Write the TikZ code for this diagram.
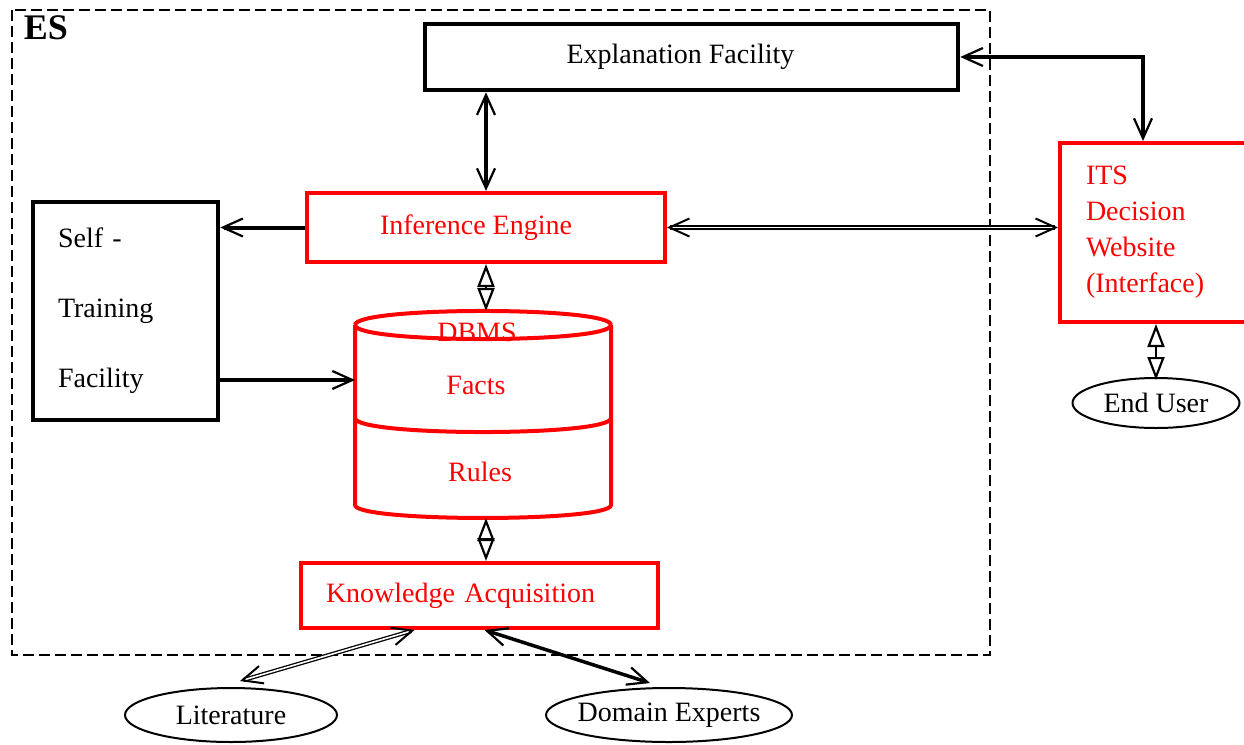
\documentclass[tikz,border=0pt]{standalone}
\usepackage{fontspec}
\setmainfont{Liberation Serif}
\usetikzlibrary{arrows.meta,shapes.geometric}
\begin{document}
\begin{tikzpicture}[x=1pt,y=-1pt,
  txt/.style={font=\fontsize{28}{33}\selectfont},
  blackbox/.style={txt, draw=black, line width=4.5pt, rectangle, inner sep=0pt},
  redbox/.style={txt, draw=red, line width=4pt, rectangle, inner sep=0pt, text=red},
  oval/.style={txt, draw=black, line width=2pt, ellipse, inner xsep=-20pt, inner ysep=0pt},
  dbms/.style={draw=red, line width=4pt, line join=round},
  redtxt/.style={txt, text=red, inner sep=0pt},
  arr/.style={line width=3.5pt, {Straight Barb[length=20pt,width=18pt,line width=2.2pt]}-{Straight Barb[length=20pt,width=18pt,line width=2.2pt]}},
  onearr/.style={line width=4pt, -{Straight Barb[length=20pt,width=18pt,line width=2.2pt]}},
  dbl/.style={double, double distance=1.6pt, line width=1.3pt, {Straight Barb[length=20pt,width=18pt,line width=2pt]}-{Straight Barb[length=20pt,width=18pt,line width=2pt]}},
  dia/.style={line width=2pt, {Triangle[open,length=23pt,width=17pt,line width=2.2pt]}-{Triangle[open,length=23pt,width=17pt,line width=2.2pt]}}
]
\useasboundingbox (0,0) rectangle (1244,744);
% ES frame
\draw[line width=2.5pt, dash pattern=on 11pt off 5pt] (12,10) rectangle (990,655);
\node[font=\bfseries\fontsize{36}{40}\selectfont, inner sep=0pt] (es) at (46,28) {ES};

% boxes
\node[blackbox, minimum width=533pt, minimum height=66pt] (expl) at (691.5,57) {\hspace*{-22pt}Explanation Facility};
\node[redbox, minimum width=358pt, minimum height=69pt] (inf) at (486,227.5) {\hspace*{-20pt}Inference Engine};
\node[blackbox, minimum width=185pt, minimum height=218pt, align=left, text width=135pt, inner xsep=25pt,
      font=\fontsize{28}{70}\selectfont] (self) at (125.5,311) {Self -\\Training\\Facility};
\node[redbox, minimum width=357pt, minimum height=65pt, align=left, text width=307pt, inner xsep=25pt] (know) at (479.5,595.5) {Knowledge Acquisition};
\node[redbox, minimum width=186pt, minimum height=179pt, align=left, text width=134pt, inner xsep=26pt,
      font=\fontsize{28}{36}\selectfont] (its) at (1153,232.5) {ITS\\Decision\\Website\\(Interface)};

% ovals
\node[oval, minimum width=167pt, minimum height=50pt] (eu) at (1156,403) {End User};
\node[oval, minimum width=212pt, minimum height=54pt] (lit) at (231,715) {Literature};
\node[oval, minimum width=246pt, minimum height=54pt] (dom) at (669,715) {Domain Experts};

% DBMS cylinder
\draw[dbms] (355,325) -- (355,505) .. controls (355,522.3) and (611,522.3) .. (611,505) -- (611,325);
\draw[dbms] (355,325) .. controls (355,306.3) and (611,306.3) .. (611,325);
\draw[dbms] (355,325) .. controls (355,343.7) and (611,343.7) .. (611,325);
\draw[dbms] (355,418) .. controls (355,436.7) and (611,436.7) .. (611,418);
\coordinate (dbtop) at (486,311);
\coordinate (dbbot) at (486,518);
\coordinate (dbleft) at (355,380);
\node[redtxt] (dbmst) at (477,332) {DBMS};
\node[redtxt] (facts) at (476,385) {Facts};
\node[redtxt] (rules) at (480,472) {Rules};

% connectors
\draw[arr] (inf.north) -- (inf.north |- expl.south);
\coordinate (corner) at (1143,57);
\draw[arr] (expl.east) -- (corner) -- (corner |- its.north);
\draw[onearr] (inf.west) -- (inf.west -| self.east);
\draw[onearr] (self.east |- dbleft) -- (dbleft);
\draw[dbl] (inf.east) -- (inf.east -| its.west);
\draw[dia] (inf.south) -- (dbtop);
\draw[dia] (dbbot) -- (dbbot |- know.north);
\draw[dia] (eu.north |- its.south) -- ([yshift=-3pt]eu.north);
\draw[dbl] ([xshift=-65pt]know.south) -- ([shift={(9pt,6pt)}]lit.north);
\draw[arr] ([xshift=5pt]know.south) -- ([shift={(-19pt,4pt)}]dom.north);
\end{tikzpicture}
\end{document}
